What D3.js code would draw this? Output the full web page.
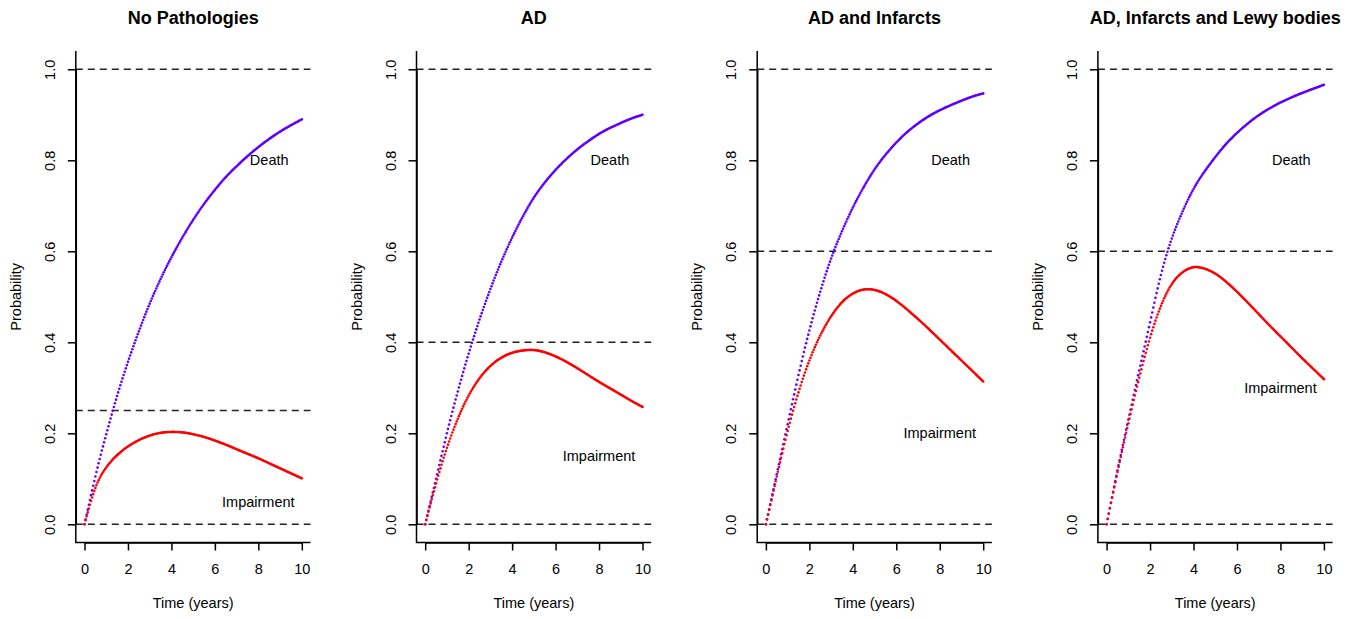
<!DOCTYPE html>
<html>
<head>
<meta charset="utf-8">
<script src="https://d3js.org/d3.v7.min.js"></script>
<style>
body { margin: 0; background: #fff; }
text { font-family: "Liberation Sans", Arial, sans-serif; fill: #000; }
</style>
</head>
<body>
<svg width="1359" height="619"></svg>
<script>
// panel titles
var titles = ["No Pathologies", "AD", "AD and Infarcts", "AD, Infarcts and Lewy bodies"];

// time points (years) at which the curves were read, every half year
var times = [0, 0.5, 1, 1.5, 2, 2.5, 3, 3.5, 4, 4.5, 5, 5.5, 6, 6.5, 7, 7.5, 8, 8.5, 9, 9.5, 10];

// probability of death, one row per panel
var death = [
  [0, .105, .198, .282, .357, .424, .485, .539, .587, .630, .669, .704, .735, .763, .787, .809, .829, .847, .863, .877, .890],
  [0, .100, .200, .292, .375, .450, .517, .577, .630, .677, .718, .751, .779, .803, .824, .842, .858, .871, .882, .892, .900],
  [0, .110, .220, .328, .426, .511, .584, .644, .696, .741, .780, .812, .839, .862, .881, .897, .910, .921, .931, .940, .947],
  [0, .118, .230, .338, .444, .548, .628, .688, .737, .775, .807, .836, .860, .881, .899, .914, .927, .938, .948, .957, .966]
];

// probability of impairment, one row per panel
var impairment = [
  [0, .080, .125, .152, .171, .185, .195, .201, .203, .202, .198, .192, .184, .175, .165, .155, .145, .134, .123, .112, .101],
  [0, .090, .168, .232, .283, .321, .348, .366, .377, .382, .383, .378, .369, .357, .343, .328, .313, .299, .285, .271, .258],
  [0, .105, .205, .290, .360, .415, .457, .488, .507, .516, .515, .506, .491, .472, .451, .429, .406, .383, .360, .337, .314],
  [0, .115, .222, .322, .410, .480, .528, .554, .565, .562, .551, .533, .511, .487, .462, .437, .413, .389, .365, .342, .319]
];

// horizontal dashed reference lines per panel
var refLines = [[0, 0.25, 1], [0, 0.4, 1], [0, 0.6, 1], [0, 0.6, 1]];

// where the curve names sit
var deathLabelPos = [8.5, 0.8];
var impairLabelX = 8;
var impairLabelY = [0.05, 0.15, 0.2, 0.3];

var xTicks = [0, 2, 4, 6, 8, 10];
var yTicks = [0, 0.2, 0.4, 0.6, 0.8, 1.0];

var deathColor = "#6000ff", impColor = "#ff0000";

var svg = d3.select("svg");

// time grid the curves are drawn on as small points (gives the dotted look where steep)
var grid = d3.range(0, 10.0001, 0.05);

function sampleCurve(path, x, ts) {
  var node = path.node(), L = node.getTotalLength(), pts = [];
  for (var l = 0; l <= L; l += 0.2) pts.push(node.getPointAtLength(l));
  pts.push(node.getPointAtLength(L));
  var j = 0;
  return ts.map(function (t) {
    var px = x(t);
    while (j < pts.length - 2 && pts[j + 1].x < px) j++;
    var a = pts[j], b = pts[j + 1];
    var f = b.x === a.x ? 0 : (px - a.x) / (b.x - a.x);
    f = Math.max(0, Math.min(1, f));
    return [px, a.y + f * (b.y - a.y)];
  });
}

titles.forEach(function (title, i) {
  var ox = 340.7 * i;
  var x = d3.scaleLinear().domain([0, 10]).range([84.5 + ox, 301.8 + ox]);
  var y = d3.scaleLinear().domain([0, 1]).range([524.3, 69.3]);
  var g = svg.append("g");

  var left = x(-0.4), right = x(10.4), top = y(1.04), bottom = y(-0.04);

  // dashed reference lines
  g.selectAll(".ref").data(refLines[i]).enter().append("line")
    .attr("x1", left).attr("x2", right)
    .attr("y1", function (d) { return y(d); }).attr("y2", function (d) { return y(d); })
    .attr("stroke", "#222").attr("stroke-width", 1.4).attr("stroke-dasharray", "7,5");

  // L-shaped box
  g.append("path")
    .attr("d", "M" + left + "," + top + "V" + bottom + "H" + right)
    .attr("fill", "none").attr("stroke", "#000").attr("stroke-width", 1.5);

  // x axis
  var xa = g.append("g").attr("transform", "translate(0," + bottom + ")")
    .call(d3.axisBottom(x).tickValues(xTicks).tickSize(8).tickSizeOuter(0).tickPadding(13));
  xa.select(".domain").attr("stroke-width", 1.5);
  xa.selectAll(".tick line").attr("stroke-width", 1.5);
  xa.selectAll("text").style("font-size", "14.5px").style("font-family", "Liberation Sans, Arial, sans-serif");

  // y axis with rotated labels
  var ya = g.append("g").attr("transform", "translate(" + left + ",0)")
    .call(d3.axisLeft(y).tickValues(yTicks).tickSize(8).tickSizeOuter(0).tickFormat(d3.format(".1f")));
  ya.select(".domain").attr("stroke-width", 1.5);
  ya.selectAll(".tick line").attr("stroke-width", 1.5);
  ya.selectAll("text")
    .attr("x", null).attr("dy", "0.35em")
    .attr("transform", "translate(-26,0) rotate(-90)")
    .attr("text-anchor", "middle")
    .style("font-size", "14.5px").style("font-family", "Liberation Sans, Arial, sans-serif");

  // curves
  [[death[i], deathColor], [impairment[i], impColor]].forEach(function (s) {
    var pts = times.map(function (t, k) { return [t, s[0][k]]; });
    var line = d3.line().x(function (d) { return x(d[0]); }).y(function (d) { return y(d[1]); })
      .curve(d3.curveNatural);
    var p = g.append("path").attr("d", line(pts)).attr("fill", "none").attr("stroke", "none");
    var dots = sampleCurve(p, x, grid);
    g.append("g").selectAll("circle").data(dots).enter().append("circle")
      .attr("cx", function (d) { return d[0]; }).attr("cy", function (d) { return d[1]; })
      .attr("r", 1.3).attr("fill", s[1]);
  });

  // curve names
  g.append("text").attr("x", x(deathLabelPos[0])).attr("y", y(deathLabelPos[1]))
    .attr("dy", "0.35em").attr("text-anchor", "middle").style("font-size", "14.5px").text("Death");
  g.append("text").attr("x", x(impairLabelX)).attr("y", y(impairLabelY[i]))
    .attr("dy", "0.35em").attr("text-anchor", "middle").style("font-size", "14.5px").text("Impairment");

  // titles and axis titles
  g.append("text").attr("x", (left + right) / 2).attr("y", 23.5)
    .attr("text-anchor", "middle").style("font-size", "18px").style("font-weight", "bold").text(title);
  g.append("text").attr("x", x(5)).attr("y", 608)
    .attr("text-anchor", "middle").style("font-size", "14.5px").text("Time (years)");
  g.append("text")
    .attr("transform", "translate(" + (left - 60) + "," + ((y(0) + y(1)) / 2) + ") rotate(-90)")
    .attr("dy", "0.35em").attr("text-anchor", "middle").style("font-size", "14.5px").text("Probability");
});
</script>
</body>
</html>
